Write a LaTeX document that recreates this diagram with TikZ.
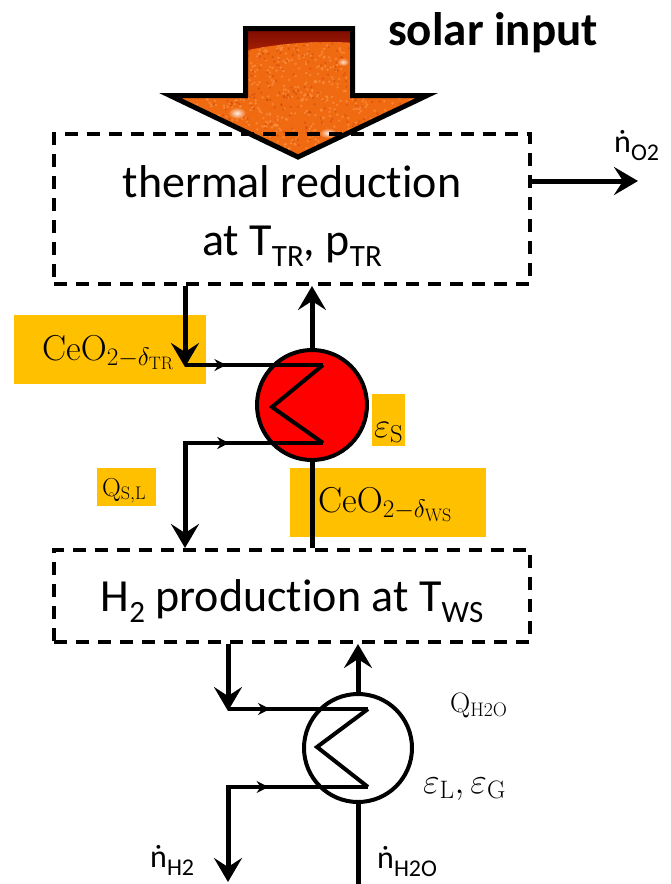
\RequirePackage{fix-cm}
\documentclass[tikz,border=0pt]{standalone}
\usepackage[no-math]{fontspec}
\setmainfont{Carlito}[Ligatures=NoCommon]
\usetikzlibrary{arrows.meta,decorations.markings,shapes.geometric}
\definecolor{lblorange}{HTML}{FFC000}
\definecolor{sunorange}{HTML}{F06A12}
\definecolor{sunlight}{HTML}{FFA458}
\definecolor{sundark}{HTML}{6A0000}
\definecolor{sunred}{HTML}{B82A04}
\definecolor{hxred}{HTML}{FF0000}
\newcommand\bsub[1]{\raisebox{-11pt}{\fontsize{31}{31}\selectfont #1}}
\newcommand\nsub[1]{\raisebox{-8pt}{\fontsize{24}{24}\selectfont #1}}
\tikzset{
  procbox/.style={draw, dash pattern=on 13pt off 9pt, line width=4pt, minimum width=476pt, inner sep=0pt},
  boxtext/.style={font=\fontsize{46}{50}\selectfont, inner sep=0pt, anchor=base},
  lblbox/.style={fill=lblorange, inner sep=0pt},
  mathlbl/.style={inner sep=0pt, anchor=base west},
  ndotlbl/.style={inner sep=0pt, anchor=base west, font=\fontsize{32}{34}\selectfont},
  hx/.style={circle, draw, line width=4pt, inner sep=0pt},
  flowline/.style={line width=5pt},
  pipe/.style={line width=4pt, line join=miter},
  bigtip/.tip={Stealth[length=24pt,width=28pt,inset=9pt]},
  smalltip/.tip={Stealth[length=12pt,width=12pt,inset=4pt]},
  midarrow/.style={postaction={decorate}, decoration={markings, mark=at position #1 with {\arrow{smalltip}}}}
}
\begin{document}
\begin{tikzpicture}[x=1pt,y=-1pt]
\useasboundingbox (0,0) rectangle (670,884);

% ---- solar input arrow ----
\def\solarpath{(245.5,28.5) -- (352.5,28.5) -- (352.5,95.5) -- (427,95.5) -- (298,157) -- (170,95.5) -- (245.5,95.5) -- cycle}
\begin{scope}
  \clip \solarpath;
  \fill[top color=sundark, bottom color=sunred] (160,20) rectangle (440,60);
  \fill[sunorange] (328,442) circle (400);
  \begin{scope}
    \clip (328,442) circle (400);
    \pgfmathsetseed{7}
    \foreach \i in {1,...,800}{
      \pgfmathsetmacro\xx{165+270*rnd}
      \pgfmathsetmacro\yy{40+125*rnd}
      \fill[sunlight, opacity=0.5] (\xx,\yy) circle (1.3);
    }
    \foreach \i in {1,...,450}{
      \pgfmathsetmacro\xx{165+270*rnd}
      \pgfmathsetmacro\yy{40+125*rnd}
      \fill[sunred, opacity=0.35] (\xx,\yy) circle (1.2);
    }
  \end{scope}
  \shade[inner color=white, outer color=sunorange, opacity=0.9] (237,113) ellipse (9 and 6);
  \shade[inner color=white, outer color=sunorange, opacity=0.9] (328,133) ellipse (9 and 5);
  \shade[inner color=white, outer color=sunorange, opacity=0.8] (343,62) ellipse (6 and 4);
\end{scope}
\draw[line width=5pt, line join=miter] \solarpath;
\node[inner sep=0pt, anchor=base west, font=\bfseries\fontsize{47}{50}\selectfont] (solar) at (388,45) {solar input};

% ---- orange label backgrounds ----
\node[lblbox, minimum width=192pt, minimum height=69pt] (bgTR) at (110,349.5) {};
\node[lblbox, minimum width=33pt, minimum height=52pt] (bgS) at (388.5,420) {};
\node[lblbox, minimum width=59pt, minimum height=38pt] (bgQ) at (126.5,487) {};
\node[lblbox, minimum width=196pt, minimum height=69pt] (bgWS) at (388,502.5) {};

% ---- process boxes ----
\node[procbox, minimum height=150pt] (TR) at (292,209) {};
\node[procbox, minimum height=92pt] (WS) at (292,596) {};
\node[boxtext] (trA) at (292,197) {thermal reduction};
\node[boxtext] (trB) at (292,255) {at T\bsub{TR}, p\bsub{TR}};
\node[boxtext] (wsA) at (292,611) {H\bsub{2} production at T\bsub{WS}};

% ---- O2 outlet ----
\coordinate (o2tip) at (638,181);
\draw[flowline, -{bigtip}] (TR.east |- o2tip) -- (o2tip);
\node[ndotlbl] (nO2) at (614,152) {ṅ\nsub{O2}};

% ---- solid heat exchanger ----
\node[hx, fill=hxred, minimum size=110pt] (HX1) at (312,405) {};
\coordinate (a1) at (185,365);
\coordinate (z1) at (323,365);
\coordinate (z2) at (272,407);
\coordinate (z3) at (323,443);
\coordinate (a2) at (185,443);
\draw[flowline, -{bigtip}] (TR.south -| a1) -- ([yshift=-2pt]a1);
\draw[pipe, midarrow=0.3] (a1) -- (z1);
\draw[pipe] (z1) -- (z2) -- (z3);
\draw[pipe, midarrow=0.33] ([xshift=-2pt]a2) -- (z3);
\draw[flowline, -{bigtip}] (a2) -- (WS.north -| a2);
\draw[flowline, -{bigtip}] (HX1.north) -- (TR.south -| HX1.north);
\draw[flowline] (HX1.south) -- (WS.north -| HX1.south);

% ---- labels round HX1 ----
\node[mathlbl, font=\fontsize{36}{40}\selectfont] (lTR) at (42,360) {$\mathrm{CeO}_{2-\delta_{\mathrm{TR}}}$};
\node[mathlbl, font=\fontsize{35}{38}\selectfont] (lS) at (374,437) {$\varepsilon_{\mathrm{S}}$};
\node[mathlbl, font=\fontsize{26}{28}\selectfont] (lQ) at (102,496) {$\mathrm{Q}_{\mathrm{S,L}}$};
\node[mathlbl, font=\fontsize{36}{40}\selectfont] (lWS) at (318,512) {$\mathrm{CeO}_{2-\delta_{\mathrm{WS}}}$};

% ---- water heat exchanger ----
\node[hx, fill=white, minimum size=108pt] (HX2) at (358,748) {};
\coordinate (b1) at (228,709);
\coordinate (y1) at (368,709);
\coordinate (y2) at (317,747);
\coordinate (y3) at (368,787);
\coordinate (b2) at (228,787);
\coordinate (b3) at (228,882);
\coordinate (wIn) at (358,884);
\draw[flowline, -{bigtip}] (WS.south -| b1) -- ([yshift=-2pt]b1);
\draw[pipe, midarrow=0.3] (b1) -- (y1);
\draw[pipe] (y1) -- (y2) -- (y3);
\draw[pipe, midarrow=0.3] ([xshift=-2pt]b2) -- (y3);
\draw[flowline, -{bigtip}] (b2) -- (b3);
\draw[flowline, -{bigtip}] (HX2.north) -- (WS.south -| HX2.north);
\draw[flowline] (wIn) -- (HX2.south);

% ---- labels round HX2 ----
\node[mathlbl, font=\fontsize{28}{30}\selectfont] (lQw) at (450,712) {$\mathrm{Q}_{\mathrm{H2O}}$};
\node[mathlbl, font=\fontsize{36}{38}\selectfont] (lLG) at (423,793) {$\varepsilon_{\mathrm{L}}, \varepsilon_{\mathrm{G}}$};
\node[ndotlbl] (nH2) at (150,867) {ṅ\nsub{H2}};
\node[ndotlbl] (nH2O) at (377,868) {ṅ\nsub{H2O}};
\end{tikzpicture}
\end{document}
